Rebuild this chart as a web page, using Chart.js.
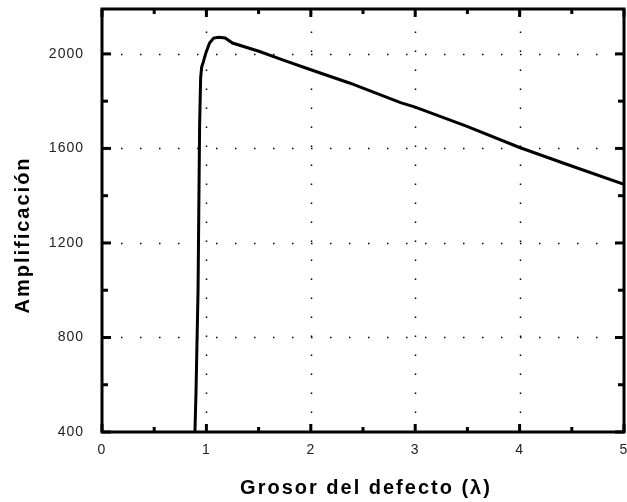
<!DOCTYPE html>
<html>
<head>
<meta charset="utf-8">
<script src="https://cdn.jsdelivr.net/npm/chart.js@4.4.1/dist/chart.umd.min.js"></script>
<style>
  html, body { margin: 0; padding: 0; background: #fff; }
  #wrap { width: 627px; height: 502px; }
</style>
</head>
<body>
<div id="wrap"><canvas id="myChart" width="627" height="502"></canvas></div>
<script>
// grosor del defecto (lambda) vs amplificacion
var grosor = [0.89, 0.90, 0.92, 0.935, 0.945, 0.955, 0.97, 0.995, 1.03, 1.07, 1.12, 1.18,
  1.25, 1.51, 1.73, 2.0, 2.37, 2.86, 3.0, 3.49, 4.0, 4.45, 5.0];
var amplificacion = [400, 560, 1000, 1700, 1900, 1945, 1965, 2004, 2046, 2067, 2070, 2067,
  2046, 2010, 1975, 1933, 1877, 1794, 1775, 1694, 1604, 1533, 1448];

var xTicks = [0, 1, 2, 3, 4, 5];
var yTicks = [400, 800, 1200, 1600, 2000];
var xMinor = [0.5, 1.5, 2.5, 3.5, 4.5];
var yMinor = [600, 1000, 1400, 1800];

var xTitle = 'Grosor del defecto (λ)';
var yTitle = 'Amplificación';

var points = grosor.map(function (g, i) { return { x: g, y: amplificacion[i] }; });

var framePlugin = {
  id: 'frame',
  beforeDraw: function (chart) {
    chart.ctx.letterSpacing = '1px';
  },
  beforeDatasetsDraw: function (chart) {
    var ctx = chart.ctx, a = chart.chartArea;
    var xs = chart.scales.x, ys = chart.scales.y;
    ctx.save();
    ctx.strokeStyle = '#000';
    ctx.lineWidth = 1.5;
    ctx.setLineDash([1.5, 17.5]);
    xTicks.forEach(function (v) {
      if (v === 0 || v === 5) return;
      var px = Math.round(xs.getPixelForValue(v)) + 0.5;
      ctx.beginPath(); ctx.moveTo(px, a.bottom); ctx.lineTo(px, a.top); ctx.stroke();
    });
    yTicks.forEach(function (v) {
      if (v === 400) return;
      var py = Math.round(ys.getPixelForValue(v)) + 0.5;
      ctx.beginPath(); ctx.moveTo(a.left, py); ctx.lineTo(a.right, py); ctx.stroke();
    });
    ctx.restore();
  },
  afterDatasetsDraw: function (chart) {
    var ctx = chart.ctx, a = chart.chartArea;
    var xs = chart.scales.x, ys = chart.scales.y;
    ctx.save();
    ctx.strokeStyle = '#000';
    ctx.lineWidth = 3;
    ctx.strokeRect(a.left, a.top, a.right - a.left, a.bottom - a.top);
    function tickX(v, len) {
      var px = xs.getPixelForValue(v);
      ctx.beginPath(); ctx.moveTo(px, a.bottom); ctx.lineTo(px, a.bottom - len); ctx.stroke();
      ctx.beginPath(); ctx.moveTo(px, a.top); ctx.lineTo(px, a.top + len); ctx.stroke();
    }
    function tickY(v, len) {
      var py = ys.getPixelForValue(v);
      ctx.beginPath(); ctx.moveTo(a.left, py); ctx.lineTo(a.left + len, py); ctx.stroke();
      ctx.beginPath(); ctx.moveTo(a.right, py); ctx.lineTo(a.right - len, py); ctx.stroke();
    }
    xTicks.forEach(function (v) { tickX(v, 8); });
    xMinor.forEach(function (v) { tickX(v, 5); });
    yTicks.forEach(function (v) { tickY(v, 9); });
    yMinor.forEach(function (v) { tickY(v, 6); });

    // axis titles
    ctx.fillStyle = '#000';
    ctx.font = 'bold 20px "Liberation Sans", Arial, sans-serif';
    ctx.letterSpacing = '2px';
    ctx.textAlign = 'center';
    ctx.textBaseline = 'middle';
    ctx.fillText(xTitle, 366, 488);
    ctx.translate(23, 235);
    ctx.rotate(-Math.PI / 2);
    ctx.fillText(yTitle, 0, 0);
    ctx.restore();
  }
};

var tickFont = { family: '"Liberation Sans", Arial, sans-serif', size: 14 };

var ctx = document.getElementById('myChart').getContext('2d');
var myChart = new Chart(ctx, {
  type: 'line',
  data: {
    datasets: [{
      data: points,
      borderColor: '#000',
      borderWidth: 3,
      pointRadius: 0,
      tension: 0,
      fill: false
    }]
  },
  options: {
    responsive: false,
    animation: false,
    events: [],
    layout: { padding: { top: 9, right: 3, left: 0, bottom: 0 } },
    plugins: { legend: { display: false }, tooltip: { enabled: false } },
    scales: {
      x: {
        type: 'linear',
        min: 0,
        max: 5,
        afterBuildTicks: function (s) { s.ticks = xTicks.map(function (v) { return { value: v }; }); },
        afterFit: function (s) { s.height = 70; s.paddingLeft = 0; s.paddingRight = 0; },
        grid: { display: false },
        border: { display: false },
        ticks: {
          color: '#222',
          padding: 2,
          maxRotation: 0,
          autoSkip: false,
          font: tickFont,
          callback: function (v) { return String(v); }
        }
      },
      y: {
        type: 'linear',
        min: 400,
        max: 2190,
        afterBuildTicks: function (s) { s.ticks = yTicks.map(function (v) { return { value: v }; }); },
        afterFit: function (s) { s.width = 102; s.paddingTop = 0; s.paddingBottom = 0; },
        grid: { display: false },
        border: { display: false },
        ticks: {
          color: '#222',
          padding: 10,
          autoSkip: false,
          font: tickFont,
          callback: function (v) { return String(v); }
        }
      }
    }
  },
  plugins: [framePlugin]
});
</script>
</body>
</html>
